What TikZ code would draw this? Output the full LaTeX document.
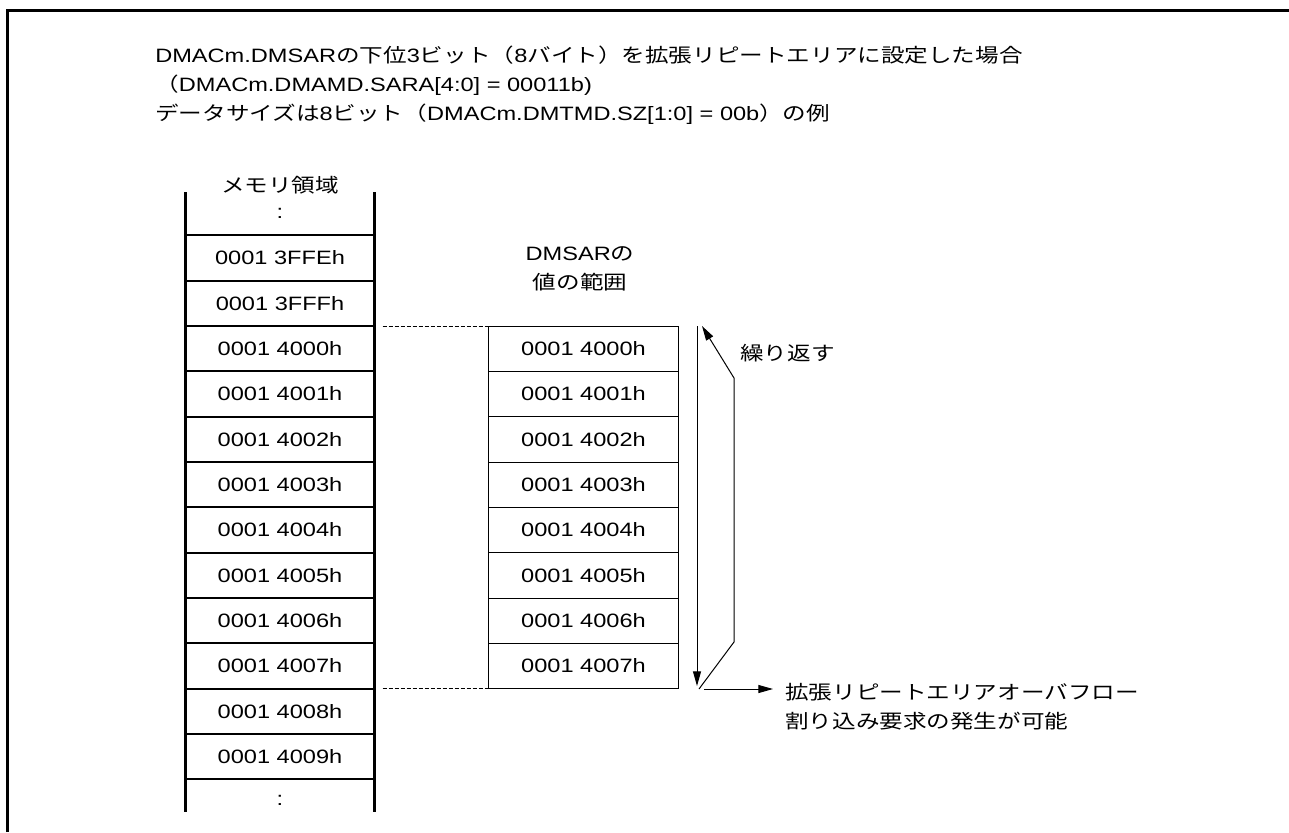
\documentclass[tikz,border=0pt]{standalone}
\usepackage{fontspec}
\setmainfont{Liberation Sans}[FakeStretch=1.22]
\newfontfamily\jpfont{Noto Sans CJK JP}[FakeStretch=1.22]
\usepackage{tikz}
\usetikzlibrary{arrows.meta, positioning}

\begin{document}
\begin{tikzpicture}[x=0.75pt, y=-0.75pt,
    txt/.style={inner sep=0pt, font=\fontsize{14.5}{22}\selectfont},
    memcell/.style={rectangle, draw, line width=1.5pt, outer sep=0pt, inner sep=0pt,
        minimum width=141.75pt, minimum height=34pt, font=\fontsize{14.5}{22}\selectfont},
    dmcell/.style={memcell, line width=0.75pt, minimum width=142.5pt},
    colline/.style={line width=2.25pt},
    guide/.style={dashed, dash pattern=on 3pt off 1.5pt, line width=0.75pt},
    arr/.style={-{Triangle[length=11pt, width=6pt]}, line width=0.75pt}]
    \useasboundingbox (0,0) rectangle (1289,832);

    % Frame
    \draw[colline] (7.5,832) -- (7.5,10.5) -- (1289,10.5);

    % Heading
    \node (head1) [txt, anchor=base west] at (155,62)
        {DMACm.DMSAR{\jpfont の下位}3{\jpfont ビット（}8{\jpfont バイト）を拡張リピートエリアに設定した場合}};
    \node (head2) [txt, anchor=base west] at (155,91)
        {{\jpfont （}DMACm.DMAMD.SARA[4:0] = 00011b)};
    \node (head3) [txt, anchor=base west] at (155,120)
        {{\jpfont データサイズは}8{\jpfont ビット（}DMACm.DMTMD.SZ[1:0] = 00b{\jpfont ）の例}};

    % Memory area
    \node (mtitle) [txt] at (280,185) {\jpfont メモリ領域};
    \node (dots1) [txt] at (280,213) {:};
    \node (m1) [memcell] at (280,258) {0001 3FFEh};
    \foreach \lab [count=\i from 2, evaluate=\i as \j using int(\i-1)] in
        {3FFF,4000,4001,4002,4003,4004,4005,4006,4007,4008,4009}
        \node (m\i) [memcell, below=0pt of m\j] {0001 \lab h};
    \node (dots2) [txt] at (280,800) {:};
    \coordinate (mtop) at (280,192);
    \coordinate (mbot) at (280,812);
    \draw[colline] (mtop -| m1.west) -- (mbot -| m1.west);
    \draw[colline] (mtop -| m1.east) -- (mbot -| m1.east);

    % DMSAR range
    \node (dtitle) [txt, align=center] at (580,269) {DMSAR{\jpfont の}\\{\jpfont 値の範囲}};
    \node (d1) [dmcell, right=85.5pt of m3] {0001 4000h};
    \foreach \lab [count=\i from 2, evaluate=\i as \j using int(\i-1)] in
        {4001,4002,4003,4004,4005,4006,4007}
        \node (d\i) [dmcell, below=0pt of d\j] {0001 \lab h};
    \draw[guide] ([xshift=6pt]m3.north east) -- (d1.north west);
    \draw[guide] ([xshift=6pt]m10.south east) -- (d8.south west);

    % Repeat arrows
    \coordinate (rtop) at (697,326);
    \coordinate (rend) at (697,686);
    \coordinate (rbot) at (699,689);
    \coordinate (rbend1) at (734,642);
    \coordinate (rbend2) at (734,378);
    \coordinate (rtip) at (702,326);
    \coordinate (ovfa) at (704,689);
    \coordinate (ovfb) at (773,689);
    \draw[arr] (rtop) -- (rend);
    \draw[arr] (rbot) -- (rbend1) -- (rbend2) -- (rtip);
    \draw[arr] (ovfa) -- (ovfb);
    \node (rep) [txt, anchor=west] at (740,353) {\jpfont 繰り返す};
    \node (ovf) [txt, anchor=west, align=left] at (785,707)
        {\jpfont 拡張リピートエリアオーバフロー\\\jpfont 割り込み要求の発生が可能};
\end{tikzpicture}
\end{document}
